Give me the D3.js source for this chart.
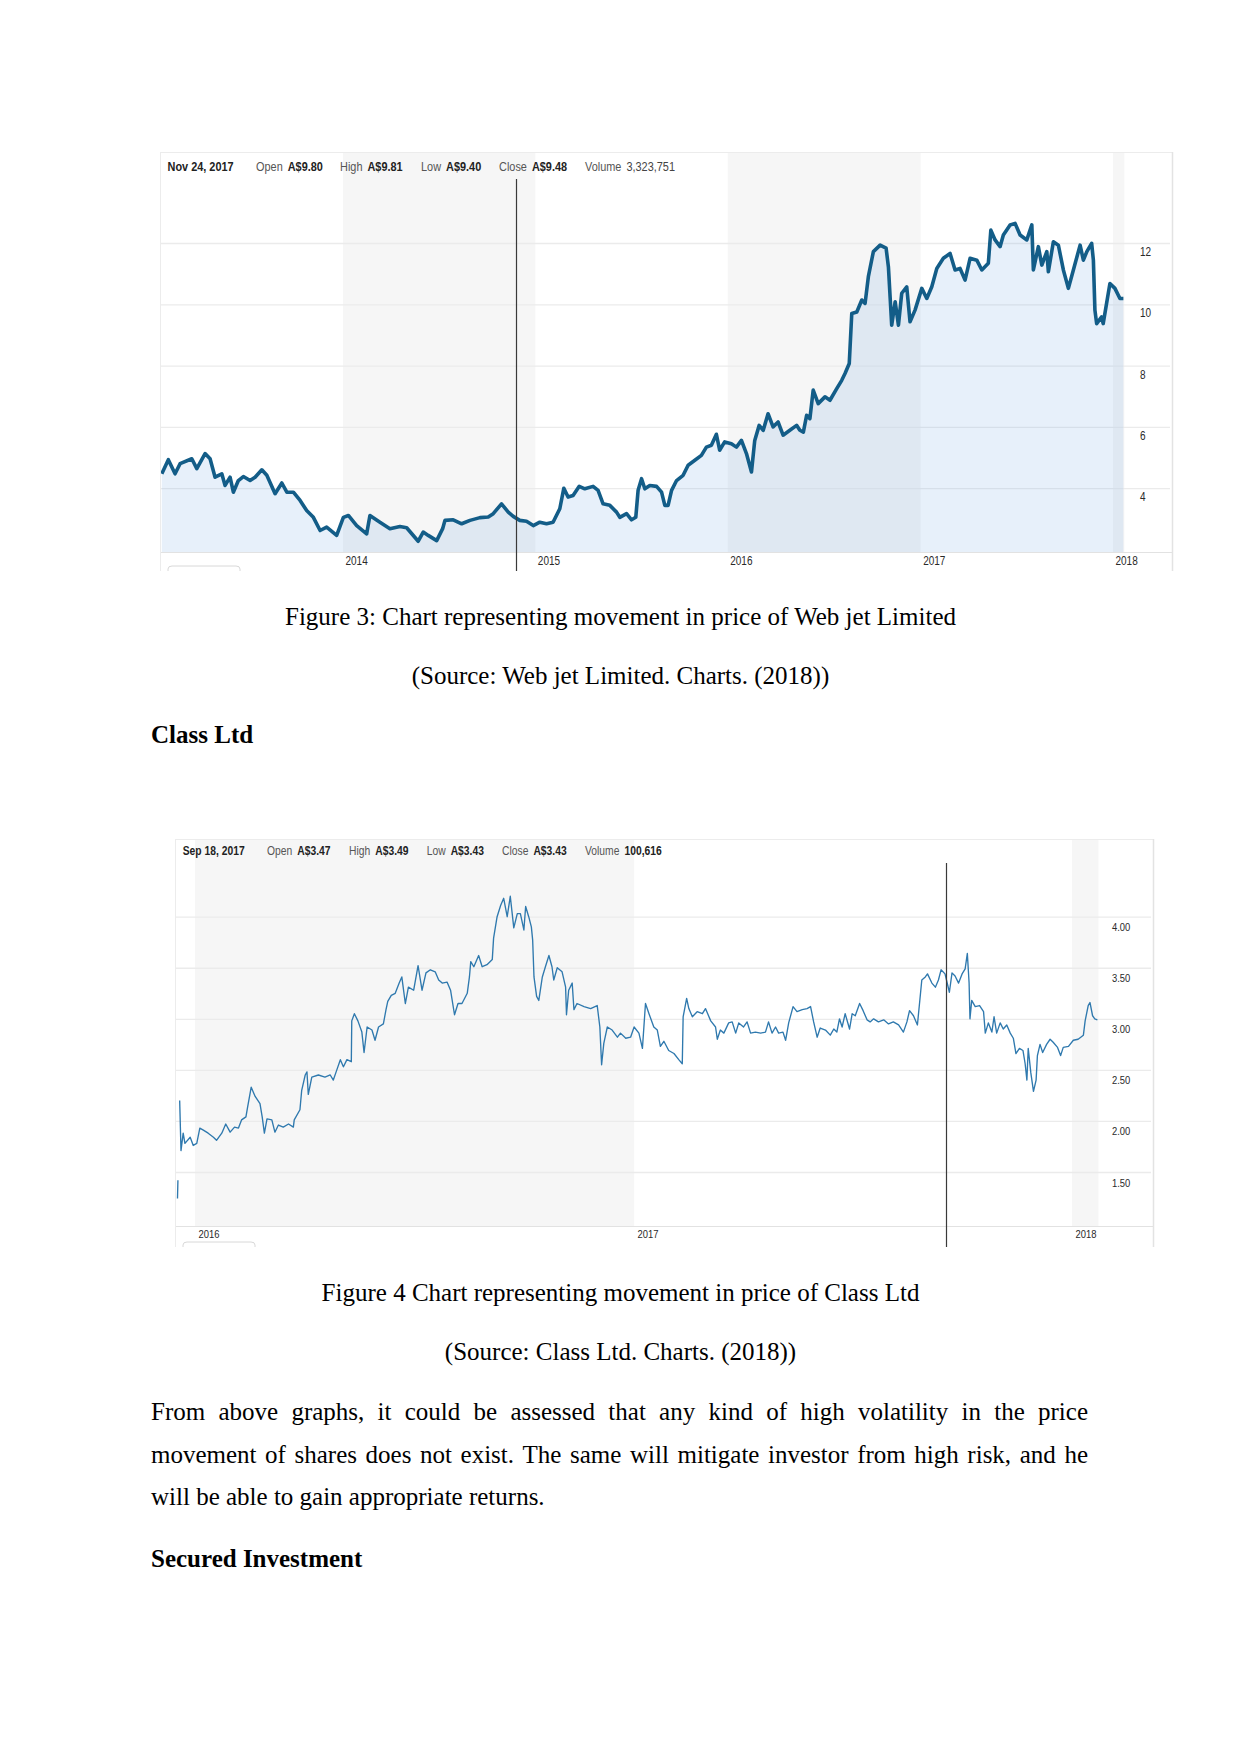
<!DOCTYPE html>
<html><head><meta charset="utf-8">
<script src="https://cdn.jsdelivr.net/npm/d3@7"></script>
<style>
html,body{margin:0;padding:0;background:#fff;}
svg{display:block;}
</style></head><body>
<svg id="page" width="1241" height="1754"></svg>
<script>
// ---------------- DATA ----------------
// Web Jet Limited close price (decimal year, A$)
const webjetYears = [2013.058,2013.092,2013.127,2013.153,2013.214,2013.240,2013.283,2013.309,2013.335,2013.370,2013.387,2013.413,2013.430,2013.456,2013.482,2013.517,2013.543,2013.578,2013.604,2013.647,2013.682,2013.708,2013.742,2013.777,2013.811,2013.846,2013.881,2013.915,2013.967,2014.002,2014.028,2014.071,2014.123,2014.140,2014.192,2014.244,2014.296,2014.331,2014.391,2014.417,2014.443,2014.487,2014.518,2014.530,2014.573,2014.617,2014.660,2014.712,2014.755,2014.781,2014.824,2014.859,2014.885,2014.919,2014.954,2014.989,2015.023,2015.058,2015.092,2015.127,2015.148,2015.170,2015.196,2015.228,2015.257,2015.300,2015.326,2015.352,2015.387,2015.422,2015.439,2015.474,2015.500,2015.522,2015.534,2015.552,2015.569,2015.595,2015.630,2015.656,2015.673,2015.690,2015.708,2015.734,2015.768,2015.794,2015.829,2015.863,2015.889,2015.915,2015.941,2015.958,2015.984,2016.019,2016.045,2016.071,2016.097,2016.123,2016.140,2016.163,2016.184,2016.209,2016.235,2016.261,2016.287,2016.322,2016.357,2016.374,2016.392,2016.409,2016.426,2016.443,2016.469,2016.504,2016.530,2016.565,2016.591,2016.608,2016.630,2016.643,2016.669,2016.695,2016.712,2016.729,2016.755,2016.790,2016.821,2016.833,2016.850,2016.868,2016.885,2016.902,2016.928,2016.945,2016.971,2017.006,2017.032,2017.058,2017.084,2017.118,2017.153,2017.179,2017.205,2017.231,2017.257,2017.292,2017.318,2017.352,2017.365,2017.387,2017.413,2017.430,2017.465,2017.491,2017.517,2017.552,2017.578,2017.586,2017.612,2017.630,2017.656,2017.664,2017.690,2017.716,2017.742,2017.768,2017.794,2017.829,2017.846,2017.864,2017.889,2017.898,2017.906,2017.915,2017.941,2017.949,2017.984,2018.010,2018.036,2018.054];
const webjetClose = [4.47,4.93,4.47,4.80,4.96,4.64,5.13,4.96,4.36,4.47,4.09,4.36,3.87,4.25,4.38,4.25,4.36,4.60,4.42,3.82,4.17,3.87,3.87,3.60,3.27,3.05,2.62,2.73,2.46,3.05,3.11,2.78,2.51,3.11,2.89,2.68,2.75,2.71,2.27,2.57,2.46,2.29,2.68,2.95,2.97,2.84,2.95,3.04,3.06,3.17,3.49,3.22,3.08,2.95,2.92,2.78,2.89,2.84,2.89,3.33,4.00,3.71,3.76,4.06,3.98,4.06,3.93,3.49,3.44,3.22,3.05,3.17,2.97,3.05,3.93,4.31,3.98,4.09,4.06,3.87,3.44,3.44,3.93,4.25,4.42,4.75,4.91,5.07,5.34,5.40,5.76,5.24,5.51,5.45,5.34,5.56,5.13,4.53,5.56,6.05,5.89,6.43,6.00,6.16,5.73,5.89,6.05,5.89,5.83,6.38,6.27,7.20,6.76,6.98,6.87,7.25,7.52,7.74,8.07,9.70,9.75,10.14,10.03,10.90,11.72,11.93,11.83,11.22,9.32,10.08,9.32,10.36,10.57,9.43,9.81,10.52,10.19,10.57,11.17,11.50,11.66,11.12,11.17,10.79,11.50,11.44,11.12,11.34,12.42,12.10,11.88,12.26,12.59,12.64,12.26,12.10,12.59,11.12,11.88,11.28,11.72,11.06,12.04,11.93,11.12,10.52,11.12,11.93,11.44,11.72,11.99,11.44,9.81,9.37,9.59,9.37,10.68,10.52,10.19,10.19];

// Class Ltd price (decimal year, A$) – NaN marks the gap after the first isolated print
const classYears = [2015.960,2015.961,2015.963,2015.965,2015.968,2015.973,2015.977,2015.989,2015.996,2016.004,2016.011,2016.019,2016.030,2016.042,2016.049,2016.061,2016.070,2016.080,2016.090,2016.099,2016.106,2016.116,2016.120,2016.128,2016.137,2016.148,2016.153,2016.158,2016.164,2016.175,2016.182,2016.190,2016.201,2016.213,2016.224,2016.226,2016.239,2016.243,2016.251,2016.255,2016.258,2016.266,2016.281,2016.296,2016.308,2016.315,2016.323,2016.331,2016.338,2016.346,2016.356,2016.357,2016.363,2016.371,2016.380,2016.385,2016.392,2016.403,2016.410,2016.418,2016.429,2016.435,2016.439,2016.447,2016.456,2016.465,2016.471,2016.479,2016.486,2016.498,2016.508,2016.517,2016.526,2016.536,2016.547,2016.555,2016.563,2016.574,2016.582,2016.591,2016.599,2016.608,2016.620,2016.625,2016.628,2016.635,2016.646,2016.654,2016.665,2016.677,2016.680,2016.688,2016.696,2016.703,2016.711,2016.718,2016.726,2016.734,2016.741,2016.749,2016.753,2016.760,2016.766,2016.769,2016.772,2016.778,2016.783,2016.791,2016.798,2016.806,2016.813,2016.817,2016.825,2016.836,2016.844,2016.846,2016.851,2016.859,2016.863,2016.870,2016.886,2016.901,2016.916,2016.922,2016.926,2016.931,2016.939,2016.950,2016.962,2016.969,2016.981,2016.992,2017.000,2017.011,2017.019,2017.026,2017.034,2017.045,2017.053,2017.060,2017.068,2017.079,2017.091,2017.102,2017.110,2017.112,2017.120,2017.125,2017.133,2017.144,2017.156,2017.163,2017.175,2017.186,2017.190,2017.197,2017.205,2017.216,2017.224,2017.232,2017.239,2017.250,2017.258,2017.266,2017.277,2017.289,2017.300,2017.307,2017.315,2017.323,2017.330,2017.340,2017.346,2017.353,2017.363,2017.372,2017.384,2017.395,2017.403,2017.410,2017.418,2017.425,2017.437,2017.448,2017.456,2017.463,2017.469,2017.475,2017.482,2017.492,2017.498,2017.505,2017.515,2017.523,2017.532,2017.539,2017.547,2017.558,2017.570,2017.581,2017.592,2017.604,2017.615,2017.623,2017.629,2017.638,2017.647,2017.652,2017.657,2017.665,2017.670,2017.680,2017.688,2017.695,2017.701,2017.710,2017.720,2017.726,2017.733,2017.741,2017.749,2017.756,2017.761,2017.765,2017.767,2017.771,2017.779,2017.789,2017.798,2017.802,2017.809,2017.817,2017.822,2017.828,2017.836,2017.843,2017.851,2017.859,2017.866,2017.872,2017.880,2017.888,2017.893,2017.897,2017.900,2017.906,2017.912,2017.918,2017.921,2017.927,2017.933,2017.942,2017.950,2017.957,2017.967,2017.974,2017.980,2017.992,2018.003,2018.014,2018.026,2018.030,2018.037,2018.041,2018.047,2018.052,2018.058];
const classClose = [1.24,1.42,NaN,2.20,1.71,1.88,1.78,1.84,1.76,1.78,1.93,1.91,1.88,1.84,1.81,1.88,1.97,1.89,1.94,1.93,2.01,2.04,2.14,2.33,2.24,2.17,2.04,1.88,2.02,2.01,1.89,1.96,1.94,1.97,1.94,2.01,2.11,2.30,2.45,2.48,2.26,2.43,2.45,2.43,2.45,2.40,2.50,2.60,2.53,2.60,2.58,2.98,3.05,2.98,2.87,2.67,2.92,2.89,2.79,2.92,2.95,3.09,3.17,3.23,3.25,3.35,3.41,3.15,3.31,3.28,3.52,3.28,3.45,3.48,3.46,3.38,3.35,3.36,3.28,3.04,3.15,3.15,3.25,3.41,3.56,3.51,3.62,3.51,3.53,3.58,3.79,4.00,4.11,4.18,4.00,4.20,3.89,4.03,4.03,3.87,4.10,4.00,3.90,3.77,3.41,3.22,3.18,3.41,3.51,3.62,3.51,3.38,3.50,3.46,3.31,3.04,3.28,3.35,3.09,3.15,3.12,3.10,3.13,2.92,2.55,2.76,2.92,2.89,2.82,2.86,2.81,2.82,2.92,2.86,2.71,3.15,3.05,2.92,2.89,2.73,2.78,2.69,2.66,2.60,2.56,3.02,3.20,3.10,3.02,3.07,3.05,3.10,2.98,2.92,2.80,2.89,2.86,2.96,2.97,2.86,2.96,2.92,2.97,2.86,2.87,2.86,2.87,2.97,2.86,2.92,2.86,2.87,2.79,2.96,3.12,3.07,3.09,3.10,3.12,2.97,2.82,2.91,2.89,2.84,2.90,2.87,3.00,2.92,3.05,2.90,3.05,3.03,3.15,3.08,2.99,2.97,3.00,2.97,2.99,2.95,2.97,2.94,2.87,2.97,3.08,3.03,2.94,3.16,3.38,3.41,3.44,3.35,3.31,3.38,3.48,3.44,3.26,3.45,3.42,3.35,3.44,3.49,3.64,3.35,3.00,3.18,3.12,3.13,3.07,2.86,2.96,2.87,3.02,2.86,2.96,2.90,2.94,2.86,2.81,2.66,2.71,2.69,2.56,2.40,2.71,2.47,2.29,2.40,2.64,2.75,2.67,2.75,2.80,2.77,2.72,2.64,2.72,2.73,2.79,2.80,2.84,2.98,3.13,3.16,3.03,3.00,2.99];

const webjetYTicks = [4, 6, 8, 10, 12];
const webjetXTicks = [2014, 2015, 2016, 2017, 2018];
const webjetShadedYears = [2014, 2016, 2018];
const webjetQuoteDate = "Nov 24, 2017";
const webjetQuoteLabels = ["Open", "High", "Low", "Close", "Volume"];
const webjetQuoteValues = ["A$9.80", "A$9.81", "A$9.40", "A$9.48", "3,323,751"];
const webjetCrosshair = 2014.899;

const classYTicks = [1.5, 2, 2.5, 3, 3.5, 4];
const classXTicks = [2016, 2017, 2018];
const classShadedYears = [2016, 2018];
const classQuoteDate = "Sep 18, 2017";
const classQuoteLabels = ["Open", "High", "Low", "Close", "Volume"];
const classQuoteValues = ["A$3.47", "A$3.49", "A$3.43", "A$3.43", "100,616"];
const classCrosshair = 2017.713;

// ---------------- HELPERS ----------------
function decToDate(t) {
  const y = Math.floor(t);
  const a = Date.UTC(y, 0, 1), b = Date.UTC(y + 1, 0, 1);
  return new Date(a + (t - y) * (b - a));
}
const svg = d3.select("#page");
svg.append("rect").attr("width", 1241).attr("height", 1754).attr("fill", "#fff");

function sText(g, x, y, str, size, sx, weight, fill) {
  return g.append("text")
    .attr("transform", `translate(${x},${y}) scale(${sx},1)`)
    .attr("font-family", "'Liberation Sans', Arial, sans-serif")
    .attr("font-size", size).attr("font-weight", weight || "normal")
    .attr("fill", fill || "#333").text(str);
}

function drawChart(cfg) {
  const g = svg.append("g");
  const data = cfg.years.map((t, i) => ({ d: decToDate(t), v: cfg.values[i] }));
  const x = d3.scaleUtc().domain([decToDate(cfg.xDomain[0]), decToDate(cfg.xDomain[1])]).range(cfg.xRange);
  const y = d3.scaleLinear().domain(cfg.yDomain).range(cfg.yRange);
  const valid = data.filter(p => !isNaN(p.v));
  const xEnd = x(valid[valid.length - 1].d);

  // shaded year bands
  g.selectAll("rect.band").data(cfg.shaded).join("rect")
    .attr("class", "band")
    .attr("x", yr => x(decToDate(yr)))
    .attr("width", yr => Math.max(0, Math.min(x(decToDate(yr + 1)), xEnd + 1) - x(decToDate(yr))))
    .attr("y", cfg.frame.top + 1).attr("height", cfg.axisY - cfg.frame.top - 1)
    .attr("fill", "#f6f6f6");

  // grid lines
  const grid = g.append("g").attr("transform", `translate(${cfg.frame.left + 1},0)`)
    .call(d3.axisRight(y).tickValues(cfg.yTicks).tickSize(cfg.gridRight - cfg.frame.left - 1).tickFormat(""));
  grid.select(".domain").remove();
  grid.selectAll("line").attr("stroke", "#ebebeb").attr("stroke-width", 1.3);

  // area
  if (cfg.area) {
    g.append("path").datum(data)
      .attr("d", d3.area().defined(p => !isNaN(p.v)).x(p => x(p.d)).y0(cfg.axisY).y1(p => y(p.v)))
      .attr("fill", "rgba(110,165,225,0.17)");
  }
  // line
  g.append("path").datum(data)
    .attr("d", d3.line().defined(p => !isNaN(p.v)).x(p => x(p.d)).y(p => y(p.v)))
    .attr("fill", "none").attr("stroke", cfg.lineColor).attr("stroke-width", cfg.lineWidth)
    .attr("stroke-linejoin", "round");

  // bottom axis line
  g.append("line").attr("x1", cfg.frame.left).attr("x2", cfg.frame.right)
    .attr("y1", cfg.axisY + 0.5).attr("y2", cfg.axisY + 0.5).attr("stroke", "#e2e2e2").attr("stroke-width", 1.2);

  // x axis labels
  const xa = g.append("g").attr("transform", `translate(0,${cfg.axisY})`)
    .call(d3.axisBottom(x).tickValues(cfg.xTicks.map(decToDate)).tickFormat(d3.utcFormat("%Y")).tickSize(0));
  xa.select(".domain").remove();
  xa.selectAll("text")
    .attr("y", null).attr("dy", null).attr("text-anchor", "start")
    .attr("transform", `translate(${cfg.xLabelDx},${cfg.xLabelDy}) scale(${cfg.axisScale},1)`)
    .attr("font-family", "'Liberation Sans', Arial, sans-serif").attr("font-size", cfg.axisFont).attr("fill", "#2a2a2a");

  // y axis labels
  const ya = g.append("g").attr("transform", `translate(${cfg.yLabelX},0)`)
    .call(d3.axisRight(y).tickValues(cfg.yTicks).tickFormat(cfg.yFormat).tickSize(0));
  ya.select(".domain").remove();
  ya.selectAll("text")
    .attr("x", null).attr("dy", null).attr("text-anchor", "start")
    .attr("transform", `translate(0,${cfg.yLabelDy}) scale(${cfg.axisScale},1)`)
    .attr("font-family", "'Liberation Sans', Arial, sans-serif").attr("font-size", cfg.axisFont).attr("fill", "#2a2a2a");

  // frame edges
  g.append("line").attr("x1", cfg.frame.left).attr("x2", cfg.frame.right).attr("y1", cfg.frame.top + 0.5).attr("y2", cfg.frame.top + 0.5).attr("stroke", "#ececec");
  g.append("line").attr("x1", cfg.frame.left + 0.5).attr("x2", cfg.frame.left + 0.5).attr("y1", cfg.frame.top).attr("y2", cfg.frame.bottom).attr("stroke", "#ececec");
  g.append("line").attr("x1", cfg.frame.right + 0.5).attr("x2", cfg.frame.right + 0.5).attr("y1", cfg.frame.top).attr("y2", cfg.frame.bottom).attr("stroke", "#e3e3e3").attr("stroke-width", 1.5);
  // navigator stub
  const nx = cfg.frame.left + 8, nb = cfg.frame.bottom;
  g.append("path").attr("d", `M${nx},${nb} L${nx},${nb - 2} Q${nx},${nb - 5} ${nx + 4},${nb - 5} L${nx + 68},${nb - 5} Q${nx + 72},${nb - 5} ${nx + 72},${nb - 2} L${nx + 72},${nb}`)
    .attr("fill", "none").attr("stroke", "#d8d8d8");

  // crosshair
  const cx = Math.round(x(decToDate(cfg.crosshair))) + 0.5;
  g.append("line").attr("x1", cx).attr("x2", cx).attr("y1", cfg.crossTop).attr("y2", cfg.frame.bottom)
    .attr("stroke", "#3a3a3a").attr("stroke-width", 1.2);

  // quote header: label then value right after it
  const hy = cfg.headerY;
  sText(g, cfg.dateX, hy, cfg.quoteDate, cfg.headerFont, cfg.headerScale, "bold", "#222");
  cfg.quoteLabels.forEach((lab, i) => {
    const t = sText(g, cfg.labelXs[i], hy, lab, cfg.headerFont, cfg.headerScale, "normal", "#555");
    const w = t.node().getComputedTextLength() * cfg.headerScale;
    const isVol = i === cfg.quoteLabels.length - 1;
    sText(g, cfg.labelXs[i] + w + cfg.headerGap, hy, cfg.quoteValues[i], cfg.headerFont, cfg.headerScale,
      isVol ? cfg.volumeWeight : "bold", isVol && cfg.volumeWeight === "normal" ? "#444" : "#222");
  });
}

// ---------------- CHART 1: Web Jet ----------------
drawChart({
  years: webjetYears, values: webjetClose,
  xDomain: [2014, 2018], xRange: [343, 1113],
  yDomain: [4, 12], yRange: [488.2, 243],
  yTicks: webjetYTicks, xTicks: webjetXTicks, shaded: webjetShadedYears,
  yFormat: d3.format("d"),
  frame: { left: 160, top: 152, right: 1172, bottom: 571 },
  gridRight: 1170, axisY: 552,
  area: true, lineColor: "#135d88", lineWidth: 3.6,
  xLabelDx: 2, xLabelDy: 12.5, yLabelX: 1140, yLabelDy: 12.5,
  axisFont: 12.5, axisScale: 0.8,
  crosshair: webjetCrosshair, crossTop: 179,
  headerY: 171, headerFont: 13, headerScale: 0.84, headerGap: 5,
  quoteDate: webjetQuoteDate, quoteLabels: webjetQuoteLabels, quoteValues: webjetQuoteValues,
  dateX: 167.5, labelXs: [256, 340, 421, 499, 585],
  volumeWeight: "normal"
});

// ---------------- CHART 2: Class Ltd ----------------
drawChart({
  years: classYears, values: classClose,
  xDomain: [2016, 2018], xRange: [195, 1072],
  yDomain: [1.5, 4], yRange: [1172, 916.7],
  yTicks: classYTicks, xTicks: classXTicks, shaded: classShadedYears,
  yFormat: d3.format(".2f"),
  frame: { left: 175, top: 839, right: 1153, bottom: 1247 },
  gridRight: 1151, axisY: 1226,
  area: false, lineColor: "#2f79ae", lineWidth: 1.35,
  xLabelDx: 3, xLabelDy: 11.5, yLabelX: 1112, yLabelDy: 14,
  axisFont: 11.5, axisScale: 0.82,
  crosshair: classCrosshair, crossTop: 863,
  headerY: 855, headerFont: 12, headerScale: 0.86, headerGap: 5,
  quoteDate: classQuoteDate, quoteLabels: classQuoteLabels, quoteValues: classQuoteValues,
  dateX: 182.7, labelXs: [267, 349, 426.7, 502, 585],
  volumeWeight: "bold"
});

// ---------------- DOCUMENT TEXT ----------------
const serif = "'Liberation Serif', 'Times New Roman', serif";
function centered(str, y, bold) {
  svg.append("text").attr("x", 620.5).attr("y", y).attr("text-anchor", "middle")
    .attr("font-family", serif).attr("font-size", 25).attr("font-weight", bold ? "bold" : "normal")
    .attr("fill", "#000").text(str);
}
function left(str, y, bold) {
  svg.append("text").attr("x", 151).attr("y", y)
    .attr("font-family", serif).attr("font-size", 25).attr("font-weight", bold ? "bold" : "normal")
    .attr("fill", "#000").text(str);
}
function justified(str, y, x0, width) {
  const words = str.split(" ");
  const g = svg.append("g");
  const nodes = words.map(w => g.append("text").attr("y", y).attr("font-family", serif)
    .attr("font-size", 25).attr("fill", "#000").text(w));
  const widths = nodes.map(n => n.node().getComputedTextLength());
  const total = d3.sum(widths);
  const gap = (width - total) / (words.length - 1);
  let cx = x0;
  nodes.forEach((n, i) => { n.attr("x", cx); cx += widths[i] + gap; });
}

centered("Figure 3: Chart representing movement in price of Web jet Limited", 625);
centered("(Source: Web jet Limited. Charts. (2018))", 684);
left("Class Ltd", 743, true);
centered("Figure 4 Chart representing movement in price of Class Ltd", 1301);
centered("(Source: Class Ltd. Charts. (2018))", 1360);
justified("From above graphs, it could be assessed that any kind of high volatility in the price", 1420, 151, 937);
justified("movement of shares does not exist. The same will mitigate investor from high risk, and he", 1463, 151, 937);
left("will be able to gain appropriate returns.", 1505);
left("Secured Investment", 1567, true);
</script>
</body></html>
